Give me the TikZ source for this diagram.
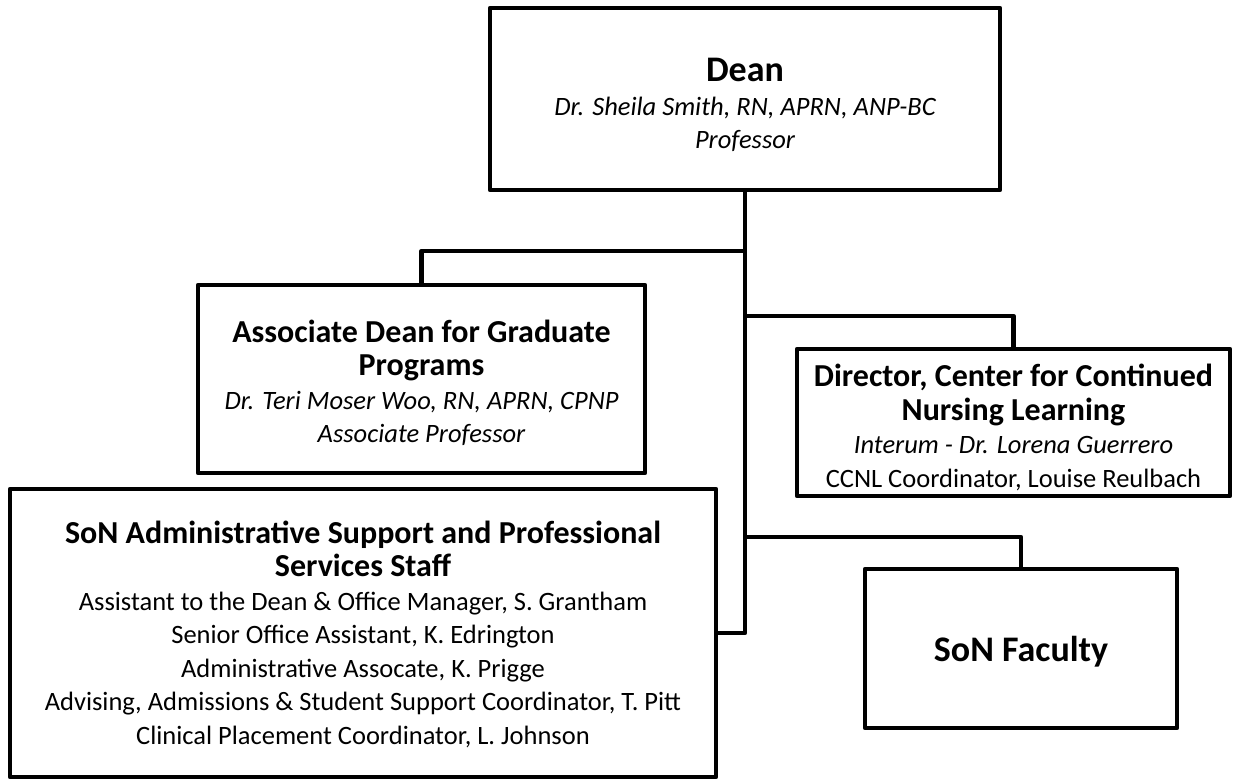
\documentclass[tikz,border=0pt]{standalone}
\usepackage{fontspec}
\setmainfont{Carlito}
\usetikzlibrary{positioning}

\newcommand{\deanfont}{\fontsize{36}{33.5}\selectfont\bfseries}
\newcommand{\hdfont}{\fontsize{32}{33.5}\selectfont\bfseries}
\newcommand{\itfont}{\fontsize{26.5}{33.5}\selectfont\itshape}
\newcommand{\rmfont}{\fontsize{26.5}{33.5}\selectfont}

\begin{document}
\begin{tikzpicture}[x=1pt,y=-1pt,
    unit/.style={draw,line width=4.5pt,line join=round,inner sep=0pt},
    txt/.style={align=center,inner sep=0pt,font=\fontsize{26.5}{33.5}\selectfont},
    link/.style={line width=4.5pt,line join=round}]
  \useasboundingbox (0,0) rectangle (1233,780);

  \node[unit,minimum width=510,minimum height=182,
    label={[txt,yshift=-6pt]center:{\deanfont Dean\\ \itfont Dr. Sheila Smith, RN, APRN, ANP-BC\\ \itfont Professor}}]
    (dean) at (745,99) {};
  \node[unit,minimum width=447,minimum height=188,
    label={[txt,yshift=-4pt]center:{\hdfont Associate Dean for Graduate\\ \hdfont Programs\\
     \itfont Dr. Teri Moser Woo, RN, APRN, CPNP\\ \itfont Associate Professor}}]
    (assoc) at (421.5,379) {};
  \node[unit,minimum width=433,minimum height=147,
    label={[txt,yshift=-5pt]center:{\hdfont Director, Center for Continued\\ \hdfont Nursing Learning\\
     \itfont Interum - Dr. Lorena Guerrero\\ \rmfont CCNL Coordinator, Louise Reulbach}}]
    (ccnl) at (1013.5,422.5) {};
  \node[unit,minimum width=706,minimum height=288,
    label={[txt,yshift=-1pt]center:{\hdfont SoN Administrative Support and Professional\\ \hdfont Services Staff\\
     \rmfont Assistant to the Dean \& Office Manager, S. Grantham\\
     \rmfont Senior Office Assistant, K. Edrington\\
     \rmfont Administrative Assocate, K. Prigge\\
     \rmfont Advising, Admissions \& Student Support Coordinator, T. Pitt\\
     \rmfont Clinical Placement Coordinator, L. Johnson}}]
    (staff) at (363,633) {};
  \node[unit,minimum width=312,minimum height=159,
    label={[txt,yshift=-3pt]center:{\deanfont SoN Faculty}}]
    (faculty) at (1021,648.5) {};

  % branch points on the trunk
  \coordinate (j1) at (dean.south |- 0,251);
  \coordinate (j2) at (dean.south |- 0,316);
  \coordinate (j3) at (dean.south |- 0,537);

  \draw[link] (dean.south) |- (staff.east);
  \draw[link] (j1) -| (assoc.north);
  \draw[link] (j2) -| (ccnl.north);
  \draw[link] (j3) -| (faculty.north);
\end{tikzpicture}
\end{document}
